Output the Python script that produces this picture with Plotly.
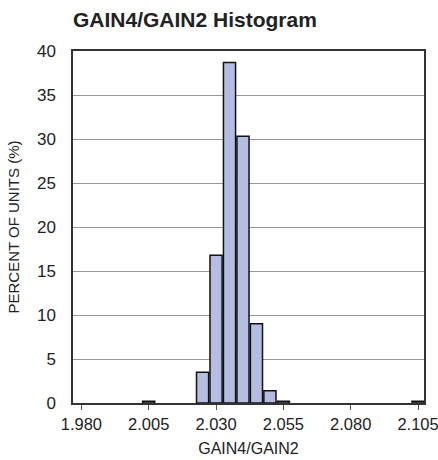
import plotly.graph_objects as go

# Histogram bins (centre of each 0.005-wide bin) and percentage of units
bin_centers = [2.005, 2.025, 2.030, 2.035, 2.040, 2.045, 2.050, 2.055, 2.105]
percent_units = [0.2, 3.5, 16.8, 38.7, 30.3, 9.0, 1.4, 0.2, 0.2]

x_ticks = [1.980, 2.005, 2.030, 2.055, 2.080, 2.105]
x_tick_text = ["1.980", "2.005", "2.030", "2.055", "2.080", "2.105"]
y_ticks = [0, 5, 10, 15, 20, 25, 30, 35, 40]

font_main = "Liberation Sans, Arial, sans-serif"

fig = go.Figure(
    go.Bar(
        x=bin_centers,
        y=percent_units,
        width=0.0045,
        marker=dict(color="#b3bee2", line=dict(color="#111111", width=1.5)),
        hoverinfo="x+y",
    )
)

fig.update_layout(
    width=438,
    height=460,
    margin=dict(l=73, r=14, t=51, b=57),
    paper_bgcolor="white",
    plot_bgcolor="white",
    showlegend=False,
    font=dict(family=font_main, size=16, color="#222222"),
    title=dict(
        text="<b>GAIN4/GAIN2 Histogram</b>",
        font=dict(family=font_main, size=21, color="#222222"),
        xref="paper",
        x=0,
        xanchor="left",
        yref="container",
        y=1 - 20 / 460,
        yanchor="middle",
    ),
)

fig.update_xaxes(
    range=[1.9769, 2.1072],
    tickvals=x_ticks,
    ticktext=x_tick_text,
    ticks="outside",
    ticklen=5,
    tickwidth=1.2,
    tickcolor="#555555",
    ticklabeloverflow="allow",
    automargin=False,
    showgrid=False,
    zeroline=False,
    showline=True,
    linecolor="#333333",
    linewidth=1.5,
    mirror=True,
    tickfont=dict(size=16.5, color="#222222"),
    title=dict(text="GAIN4/GAIN2", font=dict(size=16, color="#222222"), standoff=11),
)

fig.update_yaxes(
    range=[0, 40],
    tickvals=y_ticks,
    ticks="",
    ticklabelstandoff=12,
    automargin=False,
    showgrid=True,
    gridcolor="#999999",
    gridwidth=1,
    zeroline=False,
    showline=True,
    linecolor="#333333",
    linewidth=1.5,
    mirror=True,
    tickfont=dict(size=17, color="#222222"),
    title=dict(text="PERCENT OF UNITS (%)", font=dict(size=15, color="#222222"), standoff=14),
)

fig.write_html("out.html")
